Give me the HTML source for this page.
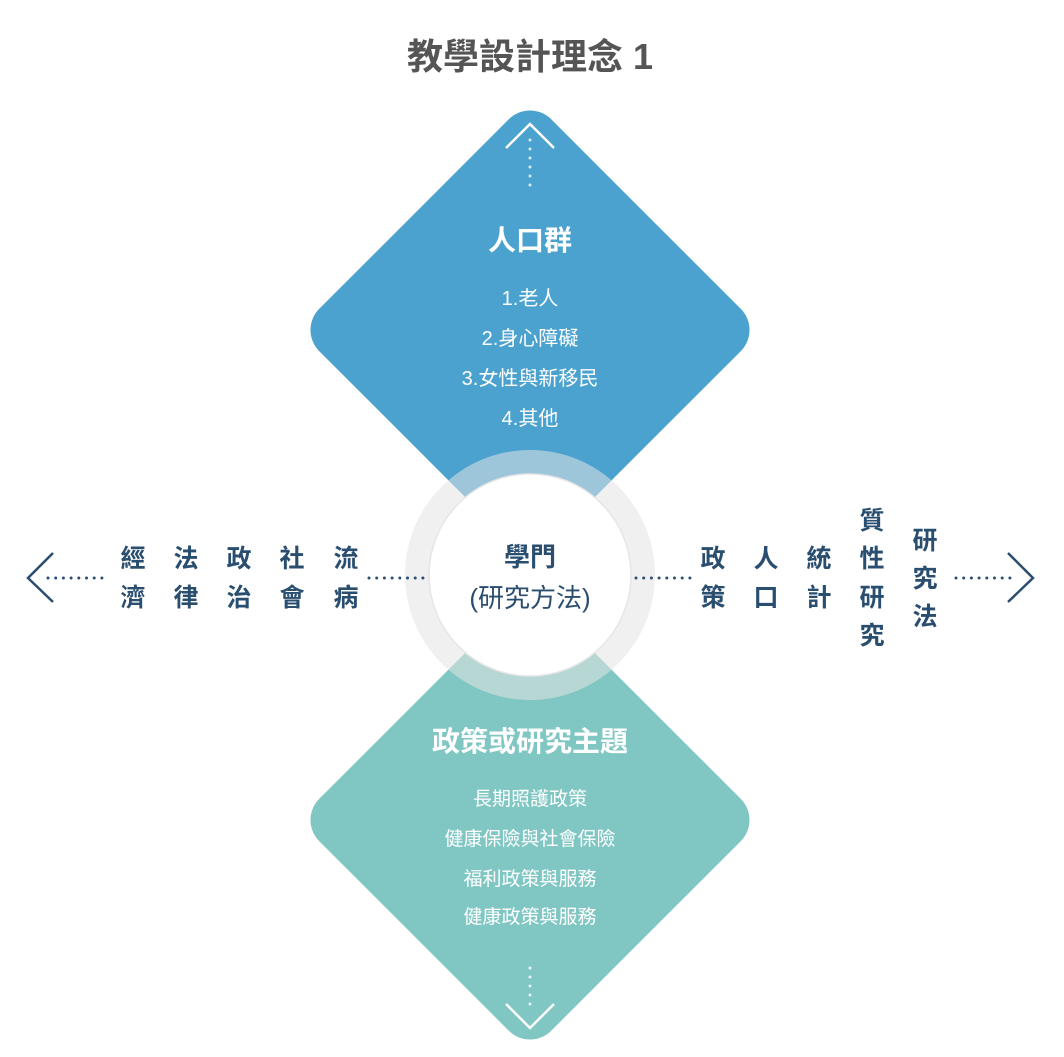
<!DOCTYPE html>
<html><head><meta charset="utf-8"><style>
html,body{margin:0;padding:0;background:#fff;}
svg{display:block;}
text{font-family:"Liberation Sans","Noto Sans CJK TC",sans-serif;}
</style></head><body>
<svg width="1064" height="1057" viewBox="0 0 1064 1057" xmlns="http://www.w3.org/2000/svg">
<text x="530" y="69" text-anchor="middle" font-size="36" font-weight="bold" fill="#555">教學設計理念 1</text>

<rect x="366" y="166" width="328" height="328" rx="30" fill="#4ba2cf" transform="rotate(45 530 330)"/>
<rect x="366" y="656" width="328" height="328" rx="30" fill="#80c7c4" transform="rotate(45 530 820)"/>

<circle cx="530" cy="575" r="125" fill="rgba(228,228,228,0.55)"/>
<circle cx="530" cy="575" r="101" fill="#fff" stroke="#e6e6e6" stroke-width="1.5"/>

<polyline points="506,148 530,124 554,148" fill="none" stroke="#fff" stroke-width="2.5"/>
<line x1="530" y1="140" x2="530" y2="186" stroke="#d6ebf5" stroke-width="3" stroke-dasharray="0 9" stroke-linecap="round"/>
<line x1="530" y1="968" x2="530" y2="1012" stroke="#e8f5f4" stroke-width="3" stroke-dasharray="0 9" stroke-linecap="round"/>
<polyline points="506,1004 530,1028 554,1004" fill="none" stroke="#fff" stroke-width="2.5"/>

<g fill="#fff" text-anchor="middle">
<text x="530" y="250" font-size="28" font-weight="bold">人口群</text>
<text x="530" y="305" font-size="20">1.老人</text>
<text x="530" y="345" font-size="20">2.身心障礙</text>
<text x="530" y="385" font-size="20">3.女性與新移民</text>
<text x="530" y="425" font-size="20">4.其他</text>
<text x="530" y="751" font-size="28" font-weight="bold">政策或研究主題</text>
<text x="530" y="805" font-size="19">長期照護政策</text>
<text x="530" y="845" font-size="19">健康保險與社會保險</text>
<text x="530" y="885" font-size="19">福利政策與服務</text>
<text x="530" y="923" font-size="19">健康政策與服務</text>
</g>

<g fill="#2a4e70" text-anchor="middle">
<text x="530" y="566" font-size="26" font-weight="bold">學門</text>
<text x="530" y="607" font-size="26">(研究方法)</text>
</g>

<polyline points="53,553 28,578 53,602" fill="none" stroke="#2a4e70" stroke-width="2.5"/>
<line x1="48" y1="578" x2="102" y2="578" stroke="#2a4e70" stroke-width="3" stroke-dasharray="0 7.7" stroke-linecap="round"/>
<line x1="369" y1="578" x2="425" y2="578" stroke="#2a4e70" stroke-width="3" stroke-dasharray="0 7.7" stroke-linecap="round"/>
<g fill="#2a4e70" text-anchor="middle" font-size="25" font-weight="bold">
<text x="133" y="567">經</text><text x="133" y="606">濟</text>
<text x="186" y="567">法</text><text x="186" y="606">律</text>
<text x="239" y="567">政</text><text x="239" y="606">治</text>
<text x="292" y="567">社</text><text x="292" y="606">會</text>
<text x="346" y="567">流</text><text x="346" y="606">病</text>
</g>

<line x1="636" y1="578" x2="692" y2="578" stroke="#2a4e70" stroke-width="3" stroke-dasharray="0 7.7" stroke-linecap="round"/>
<line x1="956" y1="578" x2="1012" y2="578" stroke="#2a4e70" stroke-width="3" stroke-dasharray="0 7.7" stroke-linecap="round"/>
<polyline points="1008,553 1033,578 1008,602" fill="none" stroke="#2a4e70" stroke-width="2.5"/>
<g fill="#2a4e70" text-anchor="middle" font-size="25" font-weight="bold">
<text x="713" y="567">政</text><text x="713" y="606">策</text>
<text x="766" y="567">人</text><text x="766" y="606">口</text>
<text x="819" y="567">統</text><text x="819" y="606">計</text>
<text x="872" y="529">質</text><text x="872" y="567">性</text><text x="872" y="606">研</text><text x="872" y="644">究</text>
<text x="925" y="549">研</text><text x="925" y="587">究</text><text x="925" y="625">法</text>
</g>
</svg>
</body></html>
